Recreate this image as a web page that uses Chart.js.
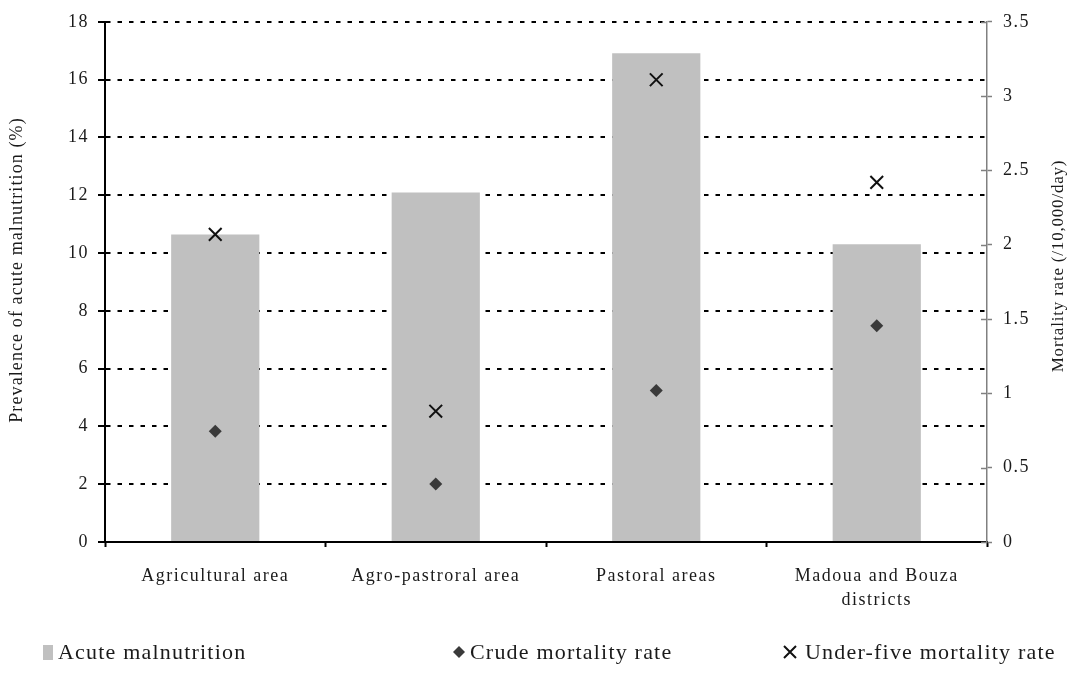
<!DOCTYPE html>
<html>
<head>
<meta charset="utf-8">
<script src="https://cdn.jsdelivr.net/npm/chart.js@4/dist/chart.umd.min.js"></script>
<style>
    html, body { margin: 0; padding: 0; background: #fff; }
    #wrap { position: relative; width: 1074px; height: 675px; }
</style>
</head>
<body>
<div id="wrap"><canvas id="chart"></canvas></div>
<script>
var categories = ['Agricultural area', 'Agro-pastroral area', 'Pastoral areas', ['Madoua and Bouza', 'districts']];
var acuteMalnutrition = [10.64, 12.09, 16.91, 10.30];
var crudeMortality = [0.745, 0.39, 1.02, 1.455];
var underFiveMortality = [2.07, 0.88, 3.11, 2.42];
var leftTicks = [0, 2, 4, 6, 8, 10, 12, 14, 16, 18];
var rightTicks = [0, 0.5, 1, 1.5, 2, 2.5, 3, 3.5];
var leftTitle = 'Prevalence of acute malnutrition (%)';
var rightTitle = 'Mortality rate (/10,000/day)';

var SERIF = "'Liberation Serif', 'Times New Roman', serif";

// wider tracking for all chart text
var tracking = {
    id: 'tracking',
    beforeDraw: function (chart) { chart.ctx.letterSpacing = '1.5px'; }
};

// axis titles, inner halves of the right ticks and the legend row
var decorations = {
    id: 'decorations',
    afterDraw: function (chart) {
        var ctx = chart.ctx;
        var y1 = chart.scales.y1;

        ctx.save();
        ctx.fillStyle = '#1a1a1a';
        ctx.textAlign = 'center';
        ctx.textBaseline = 'middle';

        ctx.save();
        ctx.font = '18px ' + SERIF;
        ctx.letterSpacing = '1.1px';
        ctx.translate(17, 270);
        ctx.rotate(-Math.PI / 2);
        ctx.fillText(leftTitle, 0, 0);
        ctx.restore();

        ctx.save();
        ctx.font = '17px ' + SERIF;
        ctx.letterSpacing = '0.8px';
        ctx.translate(1059, 266);
        ctx.rotate(-Math.PI / 2);
        ctx.fillText(rightTitle, 0, 0);
        ctx.restore();

        ctx.strokeStyle = '#808080';
        ctx.lineWidth = 1.5;
        rightTicks.forEach(function (t) {
            var py = Math.round(y1.getPixelForValue(t)) + 0.5;
            ctx.beginPath();
            ctx.moveTo(y1.left - 6, py);
            ctx.lineTo(y1.left, py);
            ctx.stroke();
        });

        // legend
        var ly = 652;
        var ds = chart.data.datasets;
        ctx.font = '22px ' + SERIF;
        ctx.letterSpacing = '1.2px';
        ctx.textAlign = 'left';

        ctx.fillStyle = ds[0].backgroundColor;
        ctx.fillRect(43, ly - 7, 10, 15);
        ctx.fillStyle = '#1a1a1a';
        ctx.fillText(ds[0].label, 58, ly + 1);

        ctx.fillStyle = ds[1].pointBackgroundColor;
        ctx.beginPath();
        ctx.moveTo(459, ly - 6);
        ctx.lineTo(465, ly);
        ctx.lineTo(459, ly + 6);
        ctx.lineTo(453, ly);
        ctx.closePath();
        ctx.fill();
        ctx.fillStyle = '#1a1a1a';
        ctx.fillText(ds[1].label, 470, ly + 1);

        ctx.strokeStyle = ds[2].borderColor;
        ctx.lineWidth = 2;
        ctx.beginPath();
        ctx.moveTo(784, ly - 6);
        ctx.lineTo(796, ly + 6);
        ctx.moveTo(796, ly - 6);
        ctx.lineTo(784, ly + 6);
        ctx.stroke();
        ctx.fillText(ds[2].label, 805, ly + 1);

        ctx.restore();
    }
};

new Chart(document.getElementById('chart'), {
    type: 'bar',
    data: {
        labels: categories,
        datasets: [{
            label: 'Acute malnutrition',
            data: acuteMalnutrition,
            backgroundColor: '#c0c0c0',
            categoryPercentage: 1,
            barPercentage: 0.4,
            yAxisID: 'y',
            order: 3
        }, {
            type: 'line',
            label: 'Crude mortality rate',
            data: crudeMortality,
            showLine: false,
            pointStyle: 'rectRot',
            pointRadius: 6.5,
            pointBorderWidth: 0,
            pointBackgroundColor: '#3a3a3a',
            pointBorderColor: '#3a3a3a',
            yAxisID: 'y1',
            order: 2
        }, {
            type: 'line',
            label: 'Under-five mortality rate',
            data: underFiveMortality,
            showLine: false,
            pointStyle: 'crossRot',
            pointRadius: 9,
            pointBorderWidth: 2,
            borderColor: '#111',
            pointBorderColor: '#111',
            yAxisID: 'y1',
            order: 1
        }]
    },
    options: {
        responsive: true,
        maintainAspectRatio: false,
        animation: false,
        layout: {padding: {top: 8.5, left: 0, right: 0, bottom: 0}},
        plugins: {legend: {display: false}, tooltip: {enabled: false}},
        scales: {
            x: {
                offset: true,
                grid: {offset: true, drawOnChartArea: false, tickLength: 5, tickColor: '#000', tickWidth: 2},
                border: {color: '#000', width: 2},
                ticks: {color: '#1a1a1a', font: {family: SERIF, size: 18, lineHeight: 1.3}, padding: 18, maxRotation: 0},
                afterFit: function (s) { s.height = 133; }
            },
            y: {
                position: 'left',
                min: 0, max: 18,
                afterBuildTicks: function (s) { s.ticks = leftTicks.map(function (v) { return {value: v}; }); },
                grid: {color: '#000', lineWidth: 2, tickLength: 7, tickColor: '#000', tickWidth: 2},
                border: {color: '#000', width: 2, dash: [4.5, 7]},
                ticks: {color: '#1a1a1a', font: {family: SERIF, size: 18}, padding: 9},
                afterFit: function (s) { s.width = 105; }
            },
            y1: {
                position: 'right',
                min: 0, max: 3.5,
                afterBuildTicks: function (s) { s.ticks = rightTicks.map(function (v) { return {value: v}; }); },
                grid: {drawOnChartArea: false, tickLength: 5, tickColor: '#808080', tickWidth: 1.5},
                border: {color: '#808080', width: 1.5},
                ticks: {
                    color: '#1a1a1a', font: {family: SERIF, size: 18}, padding: 11,
                    callback: function (v) { return String(v); }
                },
                afterFit: function (s) { s.width = 87; }
            }
        }
    },
    plugins: [tracking, decorations]
});
</script>
</body>
</html>
